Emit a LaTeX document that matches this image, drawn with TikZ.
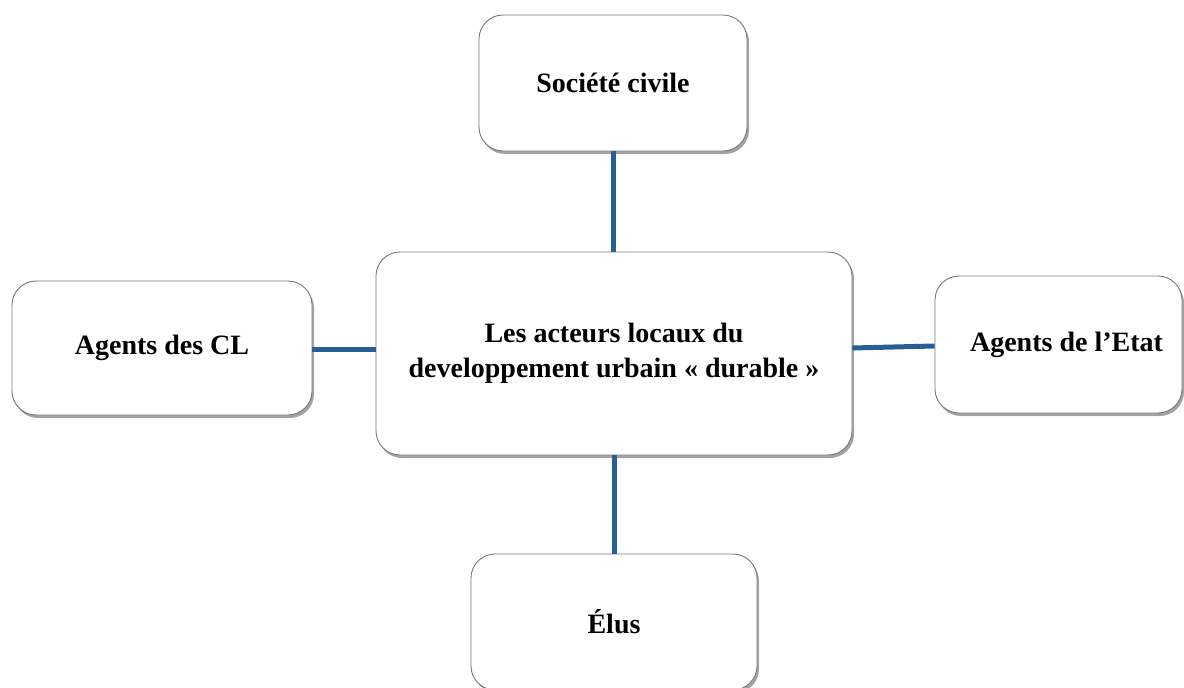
\documentclass[tikz,border=0pt]{standalone}
\usepackage{fontspec}
\setmainfont{Liberation Serif}
\usetikzlibrary{shadows,calc}
\definecolor{linkblue}{RGB}{40,94,150}
\definecolor{boxgray}{RGB}{120,120,120}
\begin{document}
\begin{tikzpicture}[x=1pt,y=-1pt,
  actorbox/.style={draw=boxgray, line width=0.9pt, fill=white, rounded corners=24pt,
    minimum width=#1, align=center, font=\fontsize{28}{35}\selectfont\bfseries,
    drop shadow={shadow xshift=2pt, shadow yshift=-3pt, fill=black!60, opacity=0.6}},
  link/.style={draw=linkblue, line width=5pt}]
\useasboundingbox (0,0) rectangle (1184,688);
\node[actorbox=268pt, minimum height=136pt] (top) at (613,83) {Société civile};
\node[actorbox=476pt, minimum height=203pt] (c) at (614,353.5) {Les acteurs locaux du\\developpement urbain « durable »};
\node[actorbox=300pt, minimum height=134pt] (l) at (162,348) {Agents des CL};
\node[actorbox=247pt, minimum height=137pt] (r) at (1058.5,344.5) {\hspace*{16pt}Agents de l’Etat};
\node[actorbox=286pt, minimum height=136pt] (b) at (614,622) {Élus};
\draw[link] (top.south) -- (top.south |- c.north);
\draw[link] (b.north) -- (b.north |- c.south);
\draw[link] ([yshift=-1pt]l.east) -- ([yshift=-1pt]l.east -| c.west);
\draw[link] ([yshift=-1.5pt]r.west) -- ([yshift=5.5pt]c.east);
\end{tikzpicture}
\end{document}
